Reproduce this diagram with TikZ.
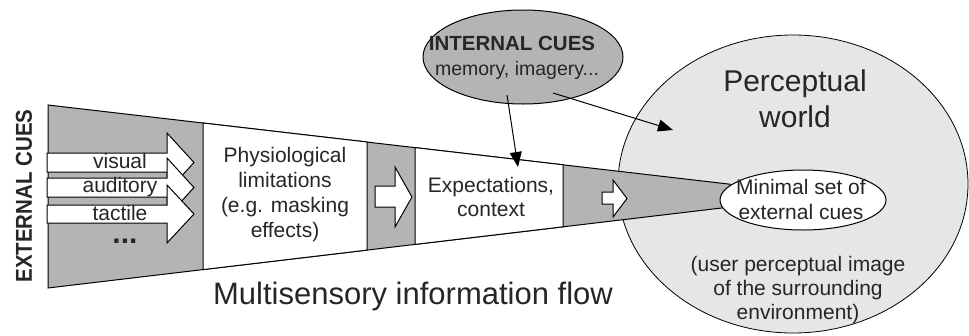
\documentclass[tikz,border=0pt]{standalone}
\usepackage{fontspec}
\setmainfont{Liberation Sans}
\usetikzlibrary{arrows.meta,shapes.geometric}
\definecolor{fungray}{RGB}{180,180,180}
\definecolor{worldgray}{RGB}{230,230,230}
\tikzset{
  outl/.style={draw=black, line width=1pt, line join=miter},
  blockarrow/.style={draw=black, fill=white, line width=1pt, line join=miter},
  txt/.style={align=center, inner sep=0pt, text=black!85},
  conn/.style={draw=black, line width=1pt, -{Triangle[length=15pt,width=12pt]}},
}
\begin{document}
\begin{tikzpicture}[x=1pt,y=-1pt]
\useasboundingbox (0,0) rectangle (969,335);
% perceptual world
\node[ellipse, draw=black, line width=0.8pt, fill=worldgray, minimum width=350pt, minimum height=298pt, inner sep=0pt] (world) at (793,184) {};
% funnel (gray)
\path[outl, fill=fungray] (48,105) -- (730,184.2) -- (730,207) -- (48,288) -- cycle;
% white boxes
\path[outl, fill=white] (203,123) -- (367,142) -- (367,250.1) -- (203,269.6) -- cycle;
\path[outl, fill=white] (415,147.6) -- (563,164.8) -- (563,226.8) -- (415,244.4) -- cycle;
% minimal set ellipse
\node[ellipse, draw=black, line width=1pt, fill=white, minimum width=166pt, minimum height=60pt, inner sep=0pt] (minset) at (803,200) {};
\node[txt, font=\fontsize{21}{25}\selectfont] (mintext) at (801,199.5) {Minimal set of\\external cues};
% block arrows
\path[blockarrow] (47,153) -- (167,153) -- (167,133) -- (194,162.5) -- (167,192) -- (167,172) -- (47,172) -- cycle;
\path[blockarrow] (47,178) -- (167,178) -- (167,158) -- (194,187.5) -- (167,217) -- (167,197) -- (47,197) -- cycle;
\path[blockarrow] (47,205) -- (167,205) -- (167,185) -- (194,214) -- (167,243) -- (167,223) -- (47,223) -- cycle;
\node[txt, font=\fontsize{21}{25}\selectfont] (visual) at (120,161) {visual};
\node[txt, font=\fontsize{21}{25}\selectfont] (auditory) at (120,187) {auditory};
\node[txt, font=\fontsize{21}{25}\selectfont] (tactile) at (120,213) {tactile};
\node[txt, font=\fontsize{30}{32}\bfseries\selectfont, text height=4.5pt, text depth=0pt, anchor=base] (dots) at (125,243) {...};
\path[blockarrow] (375,186) -- (395,186) -- (395,167) -- (412,197) -- (395,227) -- (395,207) -- (375,207) -- cycle;
\path[blockarrow] (602,192) -- (613,192) -- (613,180) -- (627,198.5) -- (613,217) -- (613,204) -- (602,204) -- cycle;
% box texts
\node[txt, font=\fontsize{21}{25}\selectfont] (physio) at (285,195) {Physiological\\limitations\\(e.g. masking\\effects)};
\node[txt, font=\fontsize{21}{24}\selectfont] (expect) at (491,197) {Expectations,\\context};
% external cues
\node[txt, rotate=90, font=\fontsize{20.5}{24}\bfseries\selectfont] (ext) at (24,196) {\scalebox{1}[1.12]{EXTERNAL CUES}};
% flow label
\node[txt, font=\fontsize{31}{36}\selectfont] (flow) at (413,296) {Multisensory information flow};
% world texts
\node[txt, font=\fontsize{30}{36}\selectfont] (pw) at (795,99) {Perceptual\\world};
\node[txt, font=\fontsize{21}{24}\selectfont] (upi) at (798,290) {(user perceptual image\\of the surrounding\\environment)};
% internal cues
\node[ellipse, draw=black, line width=1pt, fill=fungray, minimum width=200pt, minimum height=94pt, inner sep=0pt] (ic) at (523,57) {};
\node[txt, font=\fontsize{20.5}{24}\bfseries\selectfont] (ict) at (512,43) {INTERNAL CUES};
\node[txt, font=\fontsize{19.5}{24}\selectfont] (icm) at (517,70) {memory, imagery...};
% connectors
\coordinate (a1s) at (507,95);
\coordinate (a1e) at (518,167);
\coordinate (a2s) at (553,93);
\coordinate (a2e) at (673,130);
\draw[conn] (a1s) -- (a1e);
\draw[conn] (a2s) -- (a2e);
\end{tikzpicture}
\end{document}
